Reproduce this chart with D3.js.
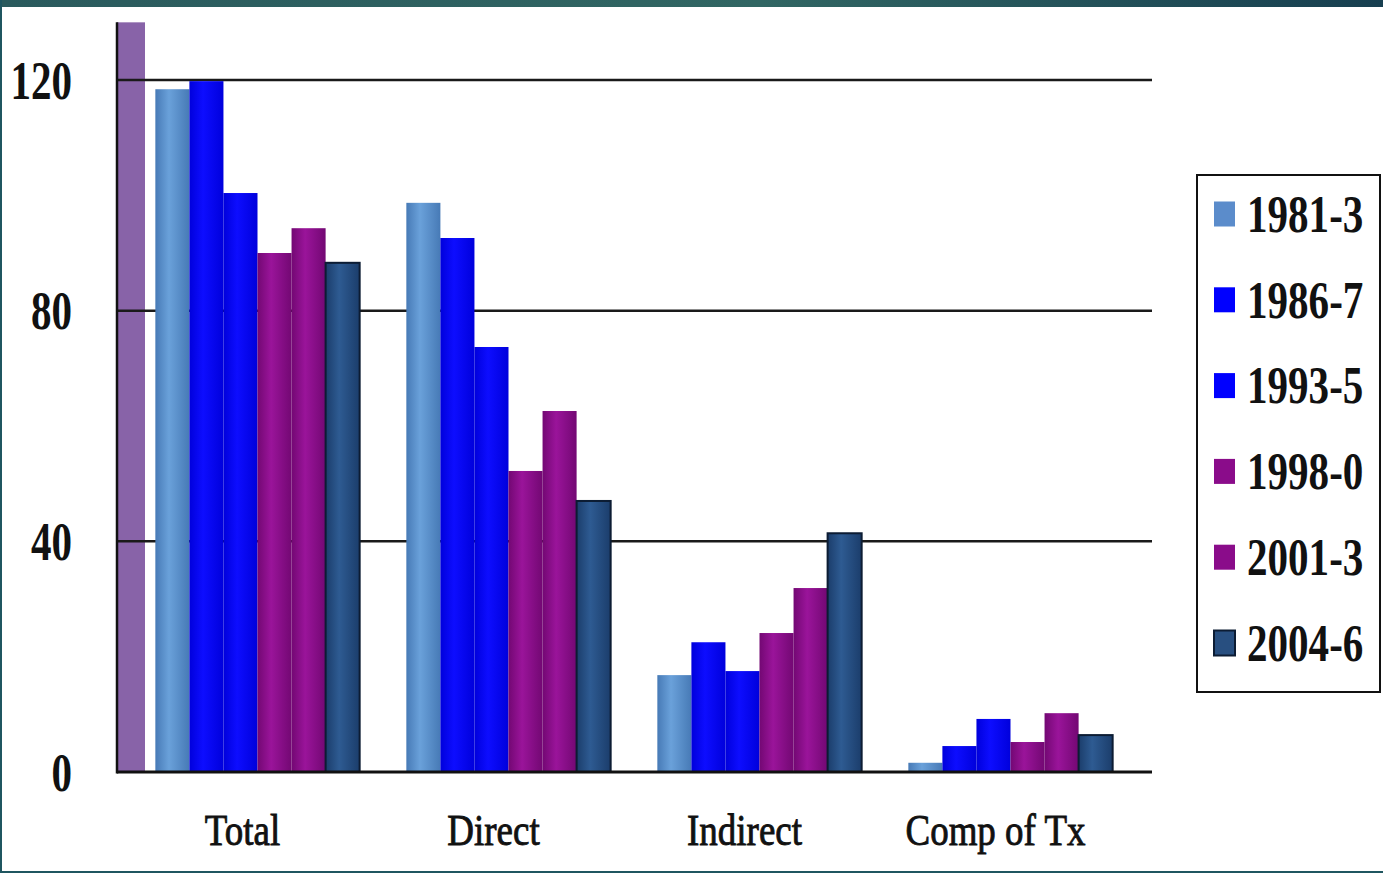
<!DOCTYPE html>
<html>
<head>
<meta charset="utf-8">
<script src="https://cdn.jsdelivr.net/npm/d3@7/dist/d3.min.js"></script>
<style>
  html, body { margin: 0; padding: 0; background: #ffffff; }
  svg { display: block; }
</style>
</head>
<body>
<svg id="chart" width="1383" height="873"></svg>
<script>
// Tax components by period
const categories = ["Total", "Direct", "Indirect", "Comp of Tx"];
const periods = ["1981-3", "1986-7", "1993-5", "1998-0", "2001-3", "2004-6"];
const v1981 = [118.4, 98.7, 16.8, 1.6];
const v1986 = [119.8, 92.6, 22.5, 4.5];
const v1993 = [100.4, 73.7, 17.5, 9.2];
const v1998 = [90.0, 52.2, 24.1, 5.2];
const v2001 = [94.3, 62.6, 31.9, 10.2];
const v2004 = [88.3, 47.0, 41.4, 6.4];
const edgeBarValue = [130];
const yTicks = [0, 40, 80, 120];

const seriesValues = [v1981, v1986, v1993, v1998, v2001, v2004];
const colors = [
  { edge: "#477ab6", mid: "#6aa1da", swatch: "#5b8ccb", stroke: "none" },
  { edge: "#0000dc", mid: "#0d0dff", swatch: "#0000ff", stroke: "none" },
  { edge: "#0000dc", mid: "#0d0dff", swatch: "#0000ff", stroke: "none" },
  { edge: "#730873", mid: "#9a149a", swatch: "#8a0c8a", stroke: "none" },
  { edge: "#730873", mid: "#9a149a", swatch: "#8a0c8a", stroke: "none" },
  { edge: "#1b3d6b", mid: "#2e5b92", swatch: "#284f80", stroke: "#0c1c33" }
];

const svg = d3.select("#chart");
const W = 1383, H = 873;

// frame
const defs = svg.append("defs");
const topGrad = defs.append("linearGradient").attr("id", "topbar")
  .attr("x1", "0%").attr("x2", "100%");
topGrad.append("stop").attr("offset", "0%").attr("stop-color", "#2a5a5d");
topGrad.append("stop").attr("offset", "55%").attr("stop-color", "#316663");
topGrad.append("stop").attr("offset", "100%").attr("stop-color", "#173f50");

svg.append("rect").attr("x", 0).attr("y", 0).attr("width", W).attr("height", 7).attr("fill", "url(#topbar)");
svg.append("rect").attr("x", 0).attr("y", 0).attr("width", 2).attr("height", H).attr("fill", "#1f5660");
svg.append("rect").attr("x", 0).attr("y", H - 2).attr("width", W).attr("height", 2).attr("fill", "#1f5660");

// bar gradients
colors.forEach((c, i) => {
  const g = defs.append("linearGradient").attr("id", "bar" + i)
    .attr("x1", "0%").attr("x2", "100%");
  g.append("stop").attr("offset", "0%").attr("stop-color", c.edge);
  g.append("stop").attr("offset", "40%").attr("stop-color", c.mid);
  g.append("stop").attr("offset", "100%").attr("stop-color", c.edge);
});

// scales
const y = d3.scaleLinear().domain([0, 120]).range([772, 80]);
const x0 = d3.scaleBand().domain(categories).range([132, 1136]).padding(0);
const bw = x0.bandwidth();
const x1 = d3.scaleBand().domain(periods).range([bw * 0.093, bw * 0.907]).padding(0);

const plotLeft = 117, plotRight = 1152;

// left edge bar
svg.append("g").selectAll("rect").data(edgeBarValue).join("rect")
  .attr("x", plotLeft).attr("width", 28)
  .attr("y", d => y(d)).attr("height", d => y(0) - y(d))
  .attr("fill", "#8863a8");

// gridlines
svg.append("g").selectAll("line").data(yTicks.filter(t => t > 0)).join("line")
  .attr("x1", plotLeft).attr("x2", plotRight)
  .attr("y1", d => y(d)).attr("y2", d => y(d))
  .attr("stroke", "#1a1a1a").attr("stroke-width", 2.5);

// bars
const groups = svg.append("g").selectAll("g").data(categories).join("g")
  .attr("transform", d => `translate(${x0(d)},0)`);
groups.selectAll("rect")
  .data((d, ci) => periods.map((p, si) => ({ p, si, v: seriesValues[si][ci] })))
  .join("rect")
  .attr("x", d => x1(d.p))
  .attr("width", x1.bandwidth())
  .attr("y", d => y(d.v))
  .attr("height", d => y(0) - y(d.v))
  .attr("fill", d => `url(#bar${d.si})`)
  .attr("stroke", d => colors[d.si].stroke)
  .attr("stroke-width", d => colors[d.si].stroke === "none" ? 0 : 2);

// axes lines
svg.append("line").attr("x1", plotLeft).attr("x2", plotLeft)
  .attr("y1", y(edgeBarValue[0])).attr("y2", y(0) + 1.5)
  .attr("stroke", "#111").attr("stroke-width", 2.5);
svg.append("line").attr("x1", plotLeft).attr("x2", plotRight)
  .attr("y1", y(0)).attr("y2", y(0))
  .attr("stroke", "#111").attr("stroke-width", 3);

// y tick labels
svg.append("g").selectAll("text").data(yTicks).join("text")
  .attr("transform", d => `translate(72,${y(d)}) scale(0.76,1)`)
  .attr("text-anchor", "end")
  .attr("dominant-baseline", "central")
  .attr("font-family", "'Liberation Serif', 'DejaVu Serif', serif")
  .attr("font-weight", "bold")
  .attr("font-size", 54)
  .attr("fill", "#111")
  .text(d => d);

// category labels
svg.append("g").selectAll("text").data(categories).join("text")
  .attr("transform", d => `translate(${x0(d) + bw / 2 - 15},845) scale(0.84,1)`)
  .attr("text-anchor", "middle")
  .attr("font-family", "'Liberation Serif', 'DejaVu Serif', serif")
  .attr("font-size", 44)
  .attr("fill", "#111")
  .attr("stroke", "#111")
  .attr("stroke-width", 0.9)
  .text(d => d);

// legend
const legend = svg.append("g");
legend.append("rect").attr("x", 1197).attr("y", 175).attr("width", 183).attr("height", 517)
  .attr("fill", "#fff").attr("stroke", "#111").attr("stroke-width", 2);
const items = legend.selectAll("g").data(periods).join("g")
  .attr("transform", (d, i) => `translate(0,${214 + i * 85.8})`);
items.append("rect").attr("x", 1214).attr("y", -12.5).attr("width", 21).attr("height", 25)
  .attr("fill", (d, i) => colors[i].swatch)
  .attr("stroke", (d, i) => colors[i].stroke === "none" ? "none" : "#0c1c33")
  .attr("stroke-width", 2);
items.append("text")
  .attr("transform", "translate(1247,0) scale(0.775,1)")
  .attr("dominant-baseline", "central")
  .attr("font-family", "'Liberation Serif', 'DejaVu Serif', serif")
  .attr("font-weight", "bold")
  .attr("font-size", 53)
  .attr("fill", "#111")
  .text(d => d);
</script>
</body>
</html>
